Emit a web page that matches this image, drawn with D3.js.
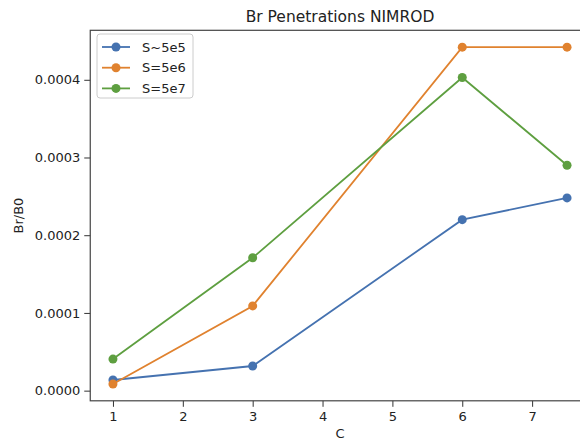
<!DOCTYPE html>
<html><head><meta charset="utf-8">
<script src="https://cdn.jsdelivr.net/npm/d3@7"></script>
<style>body{margin:0;background:#fff}svg{display:block}text{font-family:"DejaVu Sans",sans-serif;fill:#222}</style>
</head><body><svg id="c" width="580" height="440"></svg>
<script>
const xValues = [1, 3, 6, 7.5];
const seriesNames = ["S~5e5", "S=5e6", "S=5e7"];
const seriesColors = ["#4572b0", "#e0822f", "#5e9f40"];
const s1 = [0.0000137, 0.0000317, 0.000220, 0.000248];
const s2 = [0.0000086, 0.000109, 0.000442, 0.000442];
const s3 = [0.0000406, 0.000171, 0.000403, 0.000290];
const xTicks = [1, 2, 3, 4, 5, 6, 7];
const yTicks = [0, 0.0001, 0.0002, 0.0003, 0.0004];
const series = [s1, s2, s3];

const svg = d3.select("#c");
const L = 90.25, R = 589.75, T = 30.3, B = 400.8;
const all = series.flat();
const ymin = d3.min(all), ymax = d3.max(all), ym = (ymax - ymin) * 0.05;
const xm = (d3.max(xValues) - d3.min(xValues)) * 0.05;
const x = d3.scaleLinear().domain([d3.min(xValues) - xm, d3.max(xValues) + xm]).range([L, R]);
const y = d3.scaleLinear().domain([ymin - ym, ymax + ym]).range([B, T]);

const fs = 13;
const xa = svg.append("g").attr("transform", `translate(0,${B})`)
  .call(d3.axisBottom(x).tickValues(xTicks).tickFormat(d3.format("d")).tickSizeOuter(0).tickSize(6).tickPadding(5));
const ya = svg.append("g").attr("transform", `translate(${L},0)`)
  .call(d3.axisLeft(y).tickValues(yTicks).tickFormat(d3.format(".4f")).tickSizeOuter(0).tickSize(6).tickPadding(4));
[xa, ya].forEach(g => {
  g.select(".domain").remove();
  g.selectAll("line").attr("stroke", "#333").attr("stroke-width", 1);
  g.selectAll("text").attr("font-size", fs).attr("font-family", "DejaVu Sans").attr("fill", "#222");
});
svg.append("rect").attr("x", L).attr("y", T).attr("width", R - L).attr("height", B - T)
  .attr("fill", "none").attr("stroke", "#444").attr("stroke-width", 1.2);

const line = d3.line().x((d, i) => x(xValues[i])).y(d => y(d));
series.forEach((s, k) => {
  svg.append("path").datum(s).attr("d", line).attr("fill", "none")
    .attr("stroke", seriesColors[k]).attr("stroke-width", 1.8);
  svg.selectAll(null).data(s).enter().append("circle")
    .attr("cx", (d, i) => x(xValues[i])).attr("cy", d => y(d)).attr("r", 4.5)
    .attr("fill", seriesColors[k]);
});

svg.append("text").attr("x", (L + R) / 2).attr("y", 22).attr("text-anchor", "middle")
  .attr("font-size", 15.5).text("Br Penetrations NIMROD");
svg.append("text").attr("x", (L + R) / 2).attr("y", 438).attr("text-anchor", "middle")
  .attr("font-size", fs).text("C");
svg.append("text").attr("transform", `translate(23,${(T + B) / 2}) rotate(-90)`)
  .attr("text-anchor", "middle").attr("font-size", fs).text("Br/B0");

const lg = svg.append("g");
lg.append("rect").attr("x", 97).attr("y", 34).attr("width", 96).attr("height", 64).attr("rx", 3)
  .attr("fill", "#fff").attr("fill-opacity", 0.8).attr("stroke", "#ccc");
seriesNames.forEach((n, k) => {
  const yy = 47 + k * 20.7;
  lg.append("line").attr("x1", 102).attr("x2", 130).attr("y1", yy).attr("y2", yy)
    .attr("stroke", seriesColors[k]).attr("stroke-width", 1.8);
  lg.append("circle").attr("cx", 116).attr("cy", yy).attr("r", 4.5).attr("fill", seriesColors[k]);
  lg.append("text").attr("x", 142).attr("y", yy + 4.7).attr("font-size", fs).text(n);
});
</script></body></html>
